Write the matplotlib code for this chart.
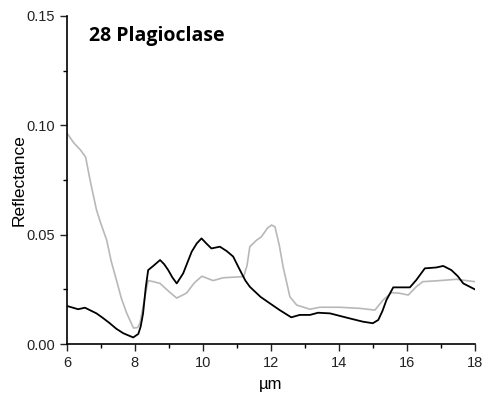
import matplotlib
matplotlib.use('Agg')
import matplotlib.pyplot as plt
from matplotlib.ticker import MultipleLocator

# gray spectrum
gray_x = [6.0, 6.2, 6.4, 6.55, 6.68, 6.87, 7.0, 7.17, 7.3, 7.46, 7.6, 7.76, 7.96, 8.08, 8.15, 8.3, 8.39,
          8.55, 8.74, 9.0, 9.23, 9.52, 9.75, 9.97, 10.3, 10.6, 11.2, 11.3, 11.38, 11.58, 11.72, 11.9,
          12.02, 12.12, 12.25, 12.36, 12.56, 12.76, 13.15, 13.44, 14.03, 14.62, 15.06, 15.3, 15.55,
          15.79, 16.04, 16.28, 16.47, 16.97, 17.46, 18.0]
gray_y = [0.0965, 0.092, 0.0887, 0.0855, 0.075, 0.0613, 0.055, 0.0475, 0.038, 0.029, 0.021, 0.014,
          0.0073, 0.0075, 0.0096, 0.022, 0.029, 0.0285, 0.0277, 0.024, 0.021, 0.0233, 0.028, 0.031,
          0.029, 0.0303, 0.0308, 0.036, 0.0445, 0.0475, 0.049, 0.053, 0.0544, 0.0536, 0.045, 0.0353,
          0.0216, 0.0178, 0.0159, 0.0168, 0.0168, 0.0163, 0.0155, 0.0201, 0.0235, 0.0232, 0.0224,
          0.0262, 0.0285, 0.029, 0.0296, 0.0285]

# black spectrum
black_x = [6.0, 6.33, 6.53, 6.87, 7.05, 7.26, 7.45, 7.66, 7.95, 8.1, 8.17, 8.24, 8.32, 8.39, 8.54, 8.74,
           8.86, 8.98, 9.1, 9.23, 9.42, 9.67, 9.82, 9.96, 10.1, 10.25, 10.5, 10.7, 10.89, 11.09, 11.25,
           11.38, 11.48, 11.7, 11.97, 12.26, 12.6, 12.85, 13.15, 13.39, 13.74, 14.32, 14.71, 15.0,
           15.16, 15.28, 15.4, 15.6, 16.09, 16.28, 16.53, 16.87, 17.07, 17.31, 17.5, 17.66, 18.0]
black_y = [0.0174, 0.0159, 0.0166, 0.014, 0.012, 0.0095, 0.007, 0.0049, 0.003, 0.0046, 0.008, 0.014,
           0.026, 0.0338, 0.0357, 0.0384, 0.0365, 0.0338, 0.0305, 0.0277, 0.0323, 0.0422, 0.046,
           0.0483, 0.046, 0.0437, 0.0445, 0.0425, 0.040, 0.0338, 0.029, 0.0262, 0.0247, 0.0215,
           0.0186, 0.0155, 0.0122, 0.0133, 0.0133, 0.0143, 0.014, 0.0117, 0.0102, 0.0095, 0.011,
           0.015, 0.0201, 0.0259, 0.0259, 0.0293, 0.0346, 0.035, 0.0357, 0.0338, 0.031, 0.0277, 0.025]

plt.rcParams['font.family'] = ['Liberation Sans', 'DejaVu Sans']

fig = plt.figure(figsize=(4.85, 4.0), dpi=100)
ax = fig.add_axes([0.138, 0.14, 0.841, 0.82])

ax.plot(gray_x, gray_y, color='#b8b8b8', lw=1.2)
ax.plot(black_x, black_y, color='black', lw=1.3)

ax.set_xlim(6, 18)
ax.set_ylim(0, 0.15)
ax.xaxis.set_major_locator(MultipleLocator(2))
ax.xaxis.set_minor_locator(MultipleLocator(1))
ax.yaxis.set_minor_locator(MultipleLocator(0.025))
ax.set_yticks([0, 0.05, 0.10, 0.15])
ax.set_yticklabels(['0.00', '0.05', '0.10', '0.15'])
ax.tick_params(which='major', direction='out', length=5, width=1, labelsize=10.5, colors='#222222')
ax.tick_params(which='minor', direction='out', length=3, width=1)
ax.spines['top'].set_visible(False)
ax.spines['right'].set_visible(False)
ax.spines['left'].set_linewidth(1.2)
ax.spines['bottom'].set_linewidth(1.2)

ax.set_xlabel('µm', fontsize=12, labelpad=5)
ax.set_ylabel('Reflectance', fontsize=12.5)
ax.yaxis.set_label_coords(-0.1, 0.5)

ax.text(0.055, 0.94, '28 Plagioclase', transform=ax.transAxes, fontsize=14,
        fontweight='bold', family='Open Sans', va='center', ha='left')

fig.savefig('out.png', dpi=100)
